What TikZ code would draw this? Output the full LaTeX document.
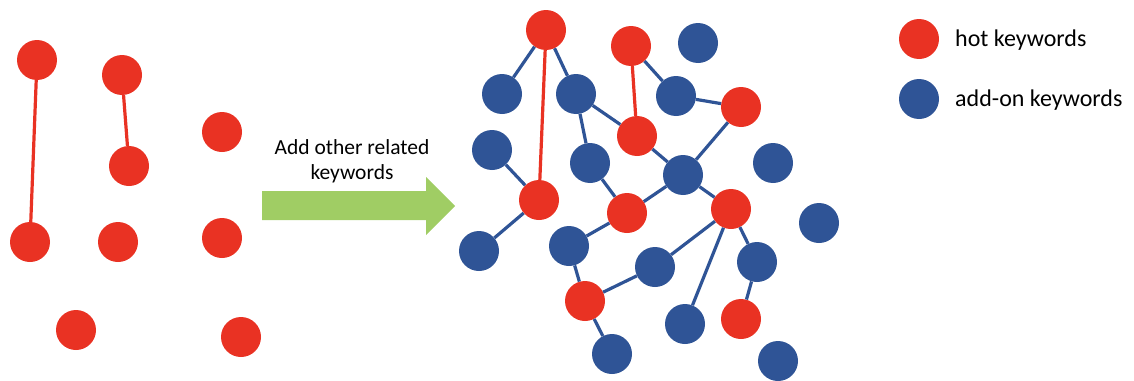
\documentclass[tikz,border=0pt]{standalone}
\usepackage{fontspec}
\setmainfont{Carlito}
\begin{document}
\begin{tikzpicture}[x=1pt,y=-1pt,
  kw/.style={circle,inner sep=0pt,minimum size=40pt},
  hot/.style={kw,fill=hotred},
  addon/.style={kw,fill=addblue},
  hotlink/.style={draw=hotred,line width=3.2pt},
  addlink/.style={draw=addblue,line width=3.2pt},
  lbl/.style={font=\fontsize{24}{28}\selectfont,anchor=west,inner sep=0pt}]
\definecolor{hotred}{RGB}{233,50,35}
\definecolor{addblue}{RGB}{47,84,150}
\definecolor{arrowgreen}{RGB}{160,205,100}
\useasboundingbox (0,0) rectangle (1134,380);

% isolated hot keywords
\node[hot] (L1) at (37,60) {};
\node[hot] (L2) at (122,75) {};
\node[hot] (L3) at (222,132) {};
\node[hot] (L4) at (129,166) {};
\node[hot] (L5) at (30,242) {};
\node[hot] (L6) at (118,242) {};
\node[hot] (L7) at (222,238) {};
\node[hot] (L8) at (76,330) {};
\node[hot] (L9) at (241,337) {};
\draw[hotlink] (L1) -- (L5);
\draw[hotlink] (L2) -- (L4);

% transition arrow
\fill[arrowgreen] (262,191) -- (426,191) -- (426,177) -- (455,206)
  -- (426,235) -- (426,220) -- (262,220) -- cycle;
\node[font=\fontsize{21.5}{25}\selectfont,align=center] (cap) at (352,161)
  {Add other related\\keywords};

% expanded keyword network
\node[hot] (R1) at (546,30) {};
\node[hot] (R2) at (631,46) {};
\node[addon] (B1) at (698,43) {};
\node[addon] (B2) at (502,94) {};
\node[addon] (B3) at (576,94) {};
\node[addon] (B4) at (676,96) {};
\node[hot] (R3) at (741,107) {};
\node[hot] (R4) at (637,136) {};
\node[addon] (B5) at (492,150) {};
\node[addon] (B6) at (590,163) {};
\node[addon] (B7) at (683,175) {};
\node[addon] (B8) at (773,163) {};
\node[hot] (R5) at (539,200) {};
\node[hot] (R6) at (627,213) {};
\node[hot] (R7) at (731,209) {};
\node[addon] (B9) at (819,223) {};
\node[addon] (B10) at (479,251) {};
\node[addon] (B11) at (569,246) {};
\node[addon] (B12) at (655,267) {};
\node[addon] (B13) at (757,262) {};
\node[hot] (R8) at (585,301) {};
\node[addon] (B14) at (685,324) {};
\node[hot] (R9) at (741,319) {};
\node[addon] (B15) at (612,354) {};
\node[addon] (B16) at (778,361) {};

\draw[hotlink] (R1) -- (R5);
\draw[hotlink] (R2) -- (R4);
\draw[addlink] (R1) -- (B2);
\draw[addlink] (R1) -- (B3);
\draw[addlink] (R2) -- (B4);
\draw[addlink] (B3) -- (R4);
\draw[addlink] (B3) -- (B6);
\draw[addlink] (B4) -- (R3);
\draw[addlink] (R3) -- (B7);
\draw[addlink] (R4) -- (B7);
\draw[addlink] (B5) -- (R5);
\draw[addlink] (R5) -- (B10);
\draw[addlink] (B6) -- (R6);
\draw[addlink] (R6) -- (B7);
\draw[addlink] (B7) -- (R7);
\draw[addlink] (R6) -- (B11);
\draw[addlink] (B11) -- (R8);
\draw[addlink] (R8) -- (B12);
\draw[addlink] (R8) -- (B15);
\draw[addlink] (R7) -- (B12);
\draw[addlink] (R7) -- (B14);
\draw[addlink] (R7) -- (B13);
\draw[addlink] (B13) -- (R9);

% legend
\node[hot] (lghot) at (919,39) {};
\node[addon] (lgadd) at (919,99) {};
\node[lbl] (lghottxt) at (955,40) {hot keywords};
\node[lbl] (lgaddtxt) at (955,100) {add-on keywords};
\end{tikzpicture}
\end{document}
